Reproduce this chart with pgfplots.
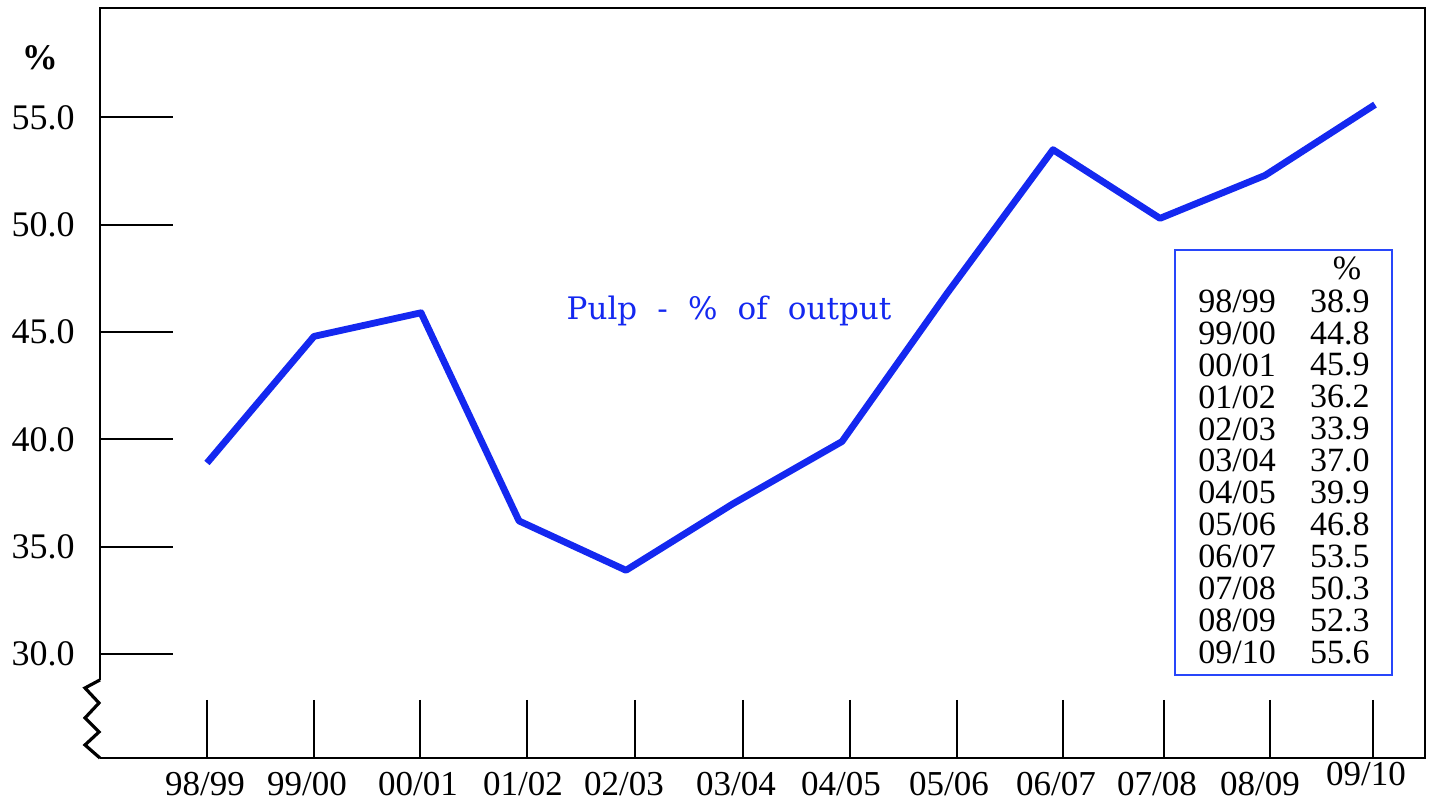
\documentclass[border=0pt]{standalone}
\usepackage{pgfplots}
\pgfplotsset{compat=1.18}
\usepackage{fontspec}
\setmainfont{Liberation Serif}
\newfontfamily\titlefont{DejaVu Serif}
\definecolor{lblue}{RGB}{20,40,240}
\definecolor{bblue}{RGB}{40,70,250}
\begin{document}
\begin{tikzpicture}
\begin{axis}[
  scale only axis, width=662.5pt, height=375pt,
  xmin=100, xmax=1425, ymin=25.15, ymax=60.1,
  axis lines=none, clip=false,
]
% bounding box
\path (0,23.15) rectangle (1434,60.475);
% data
\addplot[lblue, line width=3.4pt, line join=round] coordinates {
  (207,38.9) (314,44.8) (421,45.9) (519,36.2) (626,33.9) (733,37.0)
  (842,39.9) (947,46.8) (1053,53.5) (1160,50.3) (1265,52.3) (1375,55.6)
};
% frame
\draw[line width=1.4pt] (100,28.79) -- (100,60.1) -- (1425,60.1) -- (1425,25.15) -- (100,25.15);
\draw[line width=1.6pt, line join=miter] (100,28.79) -- (85,28.416) -- (99,27.717) -- (85,27.018) -- (99,26.365) -- (85,25.76) -- (100,25.15);
% y ticks
\pgfplotsinvokeforeach{30,35,40,45,50,55}{
  \draw[line width=1pt] (100,#1) -- (173,#1);
  \node[anchor=east, inner sep=0pt, font=\fontsize{18}{21}\selectfont] at (75,#1) {#1.0};
}
\node[font=\fontsize{18}{21}\selectfont\bfseries] at (40,57.77) {\%};
% x ticks
\pgfplotsinvokeforeach{207,314,420,527,635,743,850,957,1063,1164,1270,1373}{
  \draw[line width=1pt] (#1,27.86) -- (#1,25.15);
}
\begin{scope}[every node/.style={font=\fontsize{17.5}{20}\selectfont, inner sep=0pt}]
\node at (205,23.95) {98/99};
\node at (307,23.95) {99/00};
\node at (418,23.95) {00/01};
\node at (523,23.95) {01/02};
\node at (624,23.95) {02/03};
\node at (736,23.95) {03/04};
\node at (841,23.95) {04/05};
\node at (949,23.95) {05/06};
\node at (1056,23.95) {06/07};
\node at (1157,23.95) {07/08};
\node at (1260,23.95) {08/09};
\node at (1366,24.4) {09/10};
\end{scope}
% title
\node[text=lblue, font=\titlefont\fontsize{15.5}{18}\selectfont] at (729,46.0) {Pulp\hspace{0.65em}-\hspace{0.65em}\%\hspace{0.65em}of\hspace{0.65em}output};
% legend box
\draw[bblue, line width=1.1pt] (1175,48.826) rectangle (1392,29.02);
\begin{scope}[every node/.style={font=\fontsize{17}{20}\selectfont, inner sep=0pt}]
\node at (1347,47.97) {\%};
\node[anchor=west] at (1198,46.45) {98/99}; \node[anchor=east] at (1370,46.45) {38.9};
\node[anchor=west] at (1198,44.96) {99/00}; \node[anchor=east] at (1370,44.96) {44.8};
\node[anchor=west] at (1198,43.47) {00/01}; \node[anchor=east] at (1370,43.47) {45.9};
\node[anchor=west] at (1198,41.98) {01/02}; \node[anchor=east] at (1370,41.98) {36.2};
\node[anchor=west] at (1198,40.49) {02/03}; \node[anchor=east] at (1370,40.49) {33.9};
\node[anchor=west] at (1198,39.00) {03/04}; \node[anchor=east] at (1370,39.00) {37.0};
\node[anchor=west] at (1198,37.51) {04/05}; \node[anchor=east] at (1370,37.51) {39.9};
\node[anchor=west] at (1198,36.02) {05/06}; \node[anchor=east] at (1370,36.02) {46.8};
\node[anchor=west] at (1198,34.53) {06/07}; \node[anchor=east] at (1370,34.53) {53.5};
\node[anchor=west] at (1198,33.04) {07/08}; \node[anchor=east] at (1370,33.04) {50.3};
\node[anchor=west] at (1198,31.55) {08/09}; \node[anchor=east] at (1370,31.55) {52.3};
\node[anchor=west] at (1198,30.06) {09/10}; \node[anchor=east] at (1370,30.06) {55.6};
\end{scope}
\end{axis}
\end{tikzpicture}
\end{document}
